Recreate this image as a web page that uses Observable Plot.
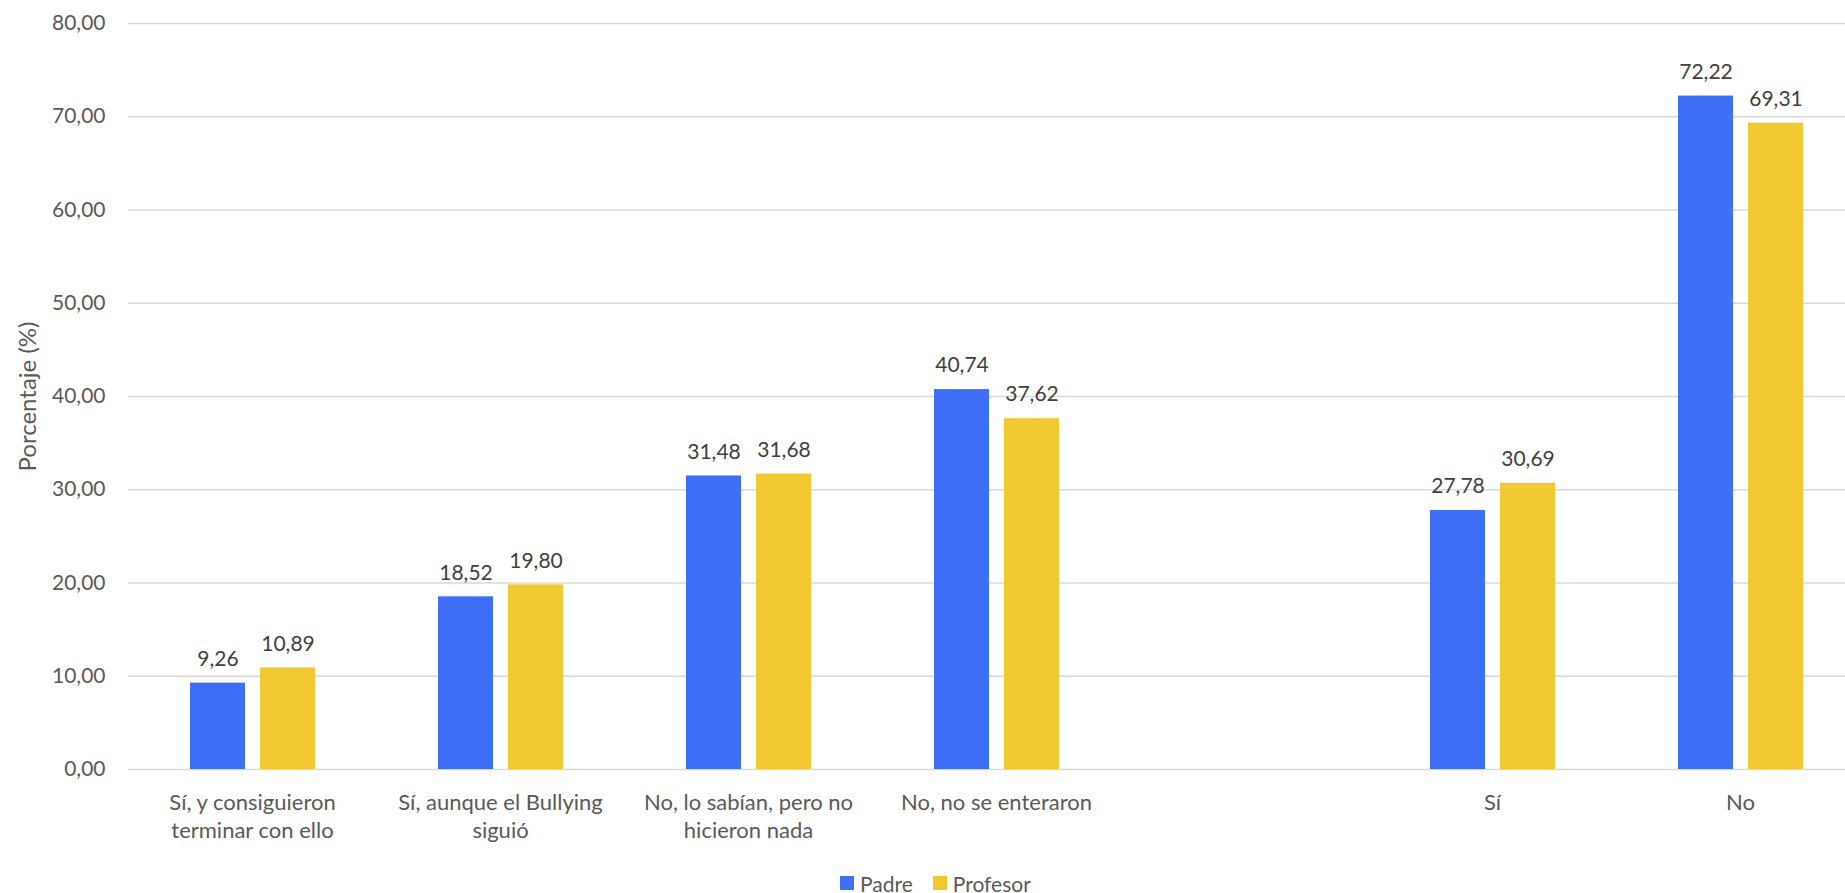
<!DOCTYPE html>
<html><head><meta charset="utf-8">
<script src="https://cdn.jsdelivr.net/npm/d3@7"></script>
<script src="https://cdn.jsdelivr.net/npm/@observablehq/plot@0.6"></script>
<style>
body{margin:0;background:#fff;font-family:Lato,"Open Sans",sans-serif;width:1845px;height:893px;overflow:hidden;position:relative;}
#legend{position:absolute;left:840px;top:870px;height:26px;display:flex;align-items:center;font-size:21px;color:#595959;}
#legend .sw{width:14px;height:14px;display:inline-block;margin-right:6px;}
#legend .item{display:flex;align-items:center;margin-right:20px;}
</style></head><body><div id="chart"></div><div id="legend"></div>
<script>
const categories = ["Sí, y consiguieron\nterminar con ello", "Sí, aunque el Bullying\nsiguió", "No, lo sabían, pero no\nhicieron nada", "No, no se enteraron", " ", "Sí", "No"];
const barCategories = ["Sí, y consiguieron\nterminar con ello", "Sí, aunque el Bullying\nsiguió", "No, lo sabían, pero no\nhicieron nada", "No, no se enteraron", "Sí", "No"];
const series = ["Padre", "Profesor"];
const padreValues = [9.26, 18.52, 31.48, 40.74, 27.78, 72.22];
const profesorValues = [10.89, 19.80, 31.68, 37.62, 30.69, 69.31];
const yTicks = [0, 10, 20, 30, 40, 50, 60, 70, 80];
const yTitle = "Porcentaje (%)";
const colors = ["#3f6ff6", "#efc832"];

const fmt = v => d3.format(".2f")(v).replace(".", ",");
const data = [];
barCategories.forEach((c, i) => {
  data.push({category: c, series: "Padre", value: padreValues[i]});
  data.push({category: c, series: "Profesor", value: profesorValues[i]});
});
const grid = [];
categories.forEach(c => yTicks.forEach(t => grid.push({category: c, y: t})));

const chart = Plot.plot({
  width: 1845, height: 855,
  marginLeft: 128, marginRight: -19, marginTop: 23, marginBottom: 86,
  style: {fontFamily: "Lato, 'Open Sans', sans-serif", fontSize: "21px", color: "#595959", background: "white", overflow: "visible"},
  fx: {domain: categories, paddingInner: 0, paddingOuter: 0, label: null},
  x: {domain: series, paddingInner: 0.221, paddingOuter: 0.867, axis: null},
  y: {domain: [0, 80], label: null},
  color: {domain: series, range: colors},
  marks: [
    Plot.ruleY(grid, {fx: "category", y: "y", stroke: "#d9d9d9", strokeWidth: 1.5}),
    Plot.barY(data, {fx: "category", x: "series", y: "value", fill: "series"}),
    Plot.text(data, {fx: "category", x: "series", y: "value", text: d => fmt(d.value), dy: -24, fill: "#404040", fontSize: 21}),
    Plot.axisY(yTicks, {tickSize: 0, tickPadding: 23, tickFormat: fmt, fontSize: 21, fill: "#595959", label: null}),
    Plot.text([yTitle], {fx: () => categories[0], frameAnchor: "left", text: d => d, rotate: -90, dx: -100, fontSize: 24, fill: "#595959", textAnchor: "middle"}),
    Plot.axisFx({anchor: "bottom", tickSize: 0, tickPadding: 21, tickFormat: d => d.trim() ? d : "", lineHeight: 1.25, fontSize: 22, fill: "#595959", label: null})
  ]
});
document.getElementById("chart").appendChild(chart);

const legend = document.getElementById("legend");
series.forEach((s, i) => {
  const it = document.createElement("div");
  it.className = "item";
  it.innerHTML = `<span class="sw" style="background:${colors[i]}"></span><span>${s}</span>`;
  legend.appendChild(it);
});
</script>
</body></html>
